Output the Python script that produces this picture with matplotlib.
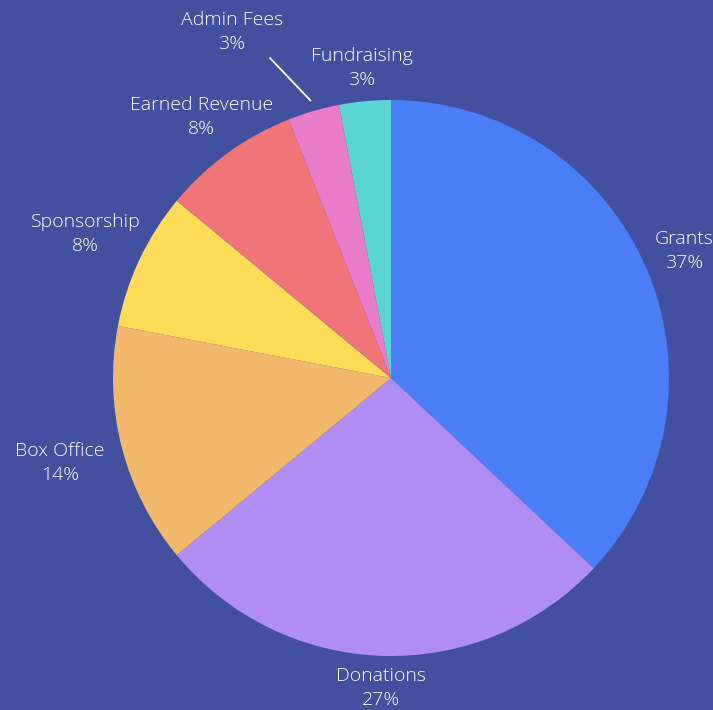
import numpy as np
import matplotlib.pyplot as plt

# data
labels = ["Grants", "Donations", "Box Office", "Sponsorship",
          "Earned Revenue", "Admin Fees", "Fundraising"]
shares = [37, 27, 14, 8, 8, 3, 3]
colors = ["#4a7ef6", "#b08cf3", "#f2b86c", "#ffdc58",
          "#f07579", "#e97bcb", "#5bd5d4"]

# label distance from centre (in pie radii) for each slice
label_dist = [1.15, 1.115, 1.23, 1.215, 1.16, 1.37, 1.12]

bg = "#4350a0"
plt.rcParams["font.family"] = ["Open Sans", "DejaVu Sans"]

fig = plt.figure(figsize=(7.13, 7.10), dpi=100, facecolor=bg)
ax = fig.add_axes([0, 0, 1, 1])
ax.set_facecolor(bg)

R = 278.0
cx, cy = 391.0, 378.0
W, H = 713.0, 710.0

wedges, _ = ax.pie(shares, colors=colors, startangle=90, counterclock=False,
                   radius=1.0, wedgeprops=dict(linewidth=0))
ax.set_xlim(-cx / R, (W - cx) / R)
ax.set_ylim(-(H - cy) / R, cy / R)
ax.set_aspect("auto")
ax.axis("off")

for w, lab, val, d in zip(wedges, labels, shares, label_dist):
    mid = np.deg2rad((w.theta1 + w.theta2) / 2)
    if lab == "Admin Fees":
        # label pushed out to the left with a leader line
        x0, y0 = 1.04 * np.cos(mid), 1.04 * np.sin(mid)
        a2 = mid + np.deg2rad(4.5)
        x1, y1 = 1.23 * np.cos(a2), 1.23 * np.sin(a2)
        ax.plot([x0, x1], [y0, y1], color="white", lw=1.3)
        mid = mid + np.deg2rad(8.5)
    x, y = d * np.cos(mid), d * np.sin(mid)
    ax.text(x, y, f"{lab}\n{val}%", ha="center", va="center",
            color="white", fontsize=14, fontweight="light",
            linespacing=1.4)

fig.savefig("out.png", dpi=100, facecolor=bg)
